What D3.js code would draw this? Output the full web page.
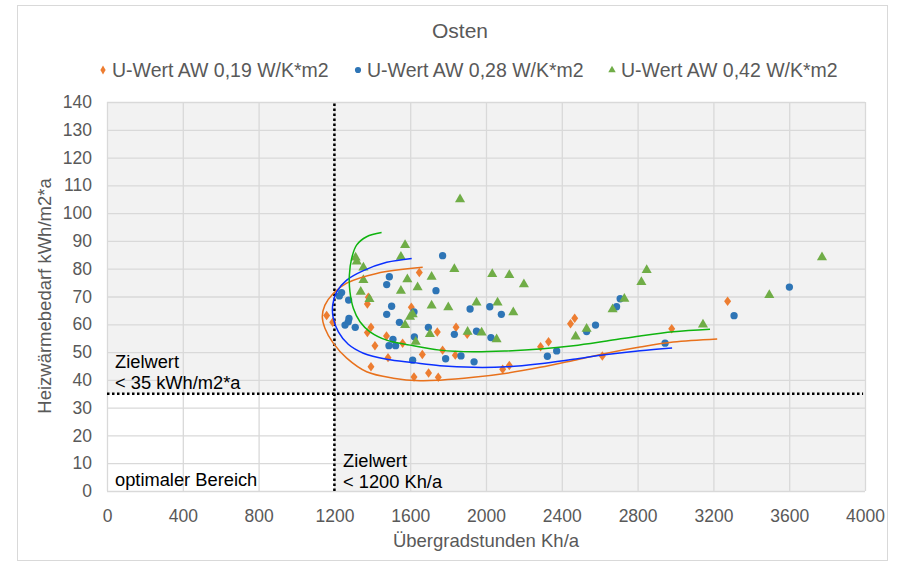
<!DOCTYPE html>
<html>
<head>
<meta charset="utf-8">
<script src="https://cdn.jsdelivr.net/npm/d3@7"></script>
<style>
  body { margin: 0; background: #fff; }
  text { font-family: "Liberation Sans", Arial, sans-serif; }
</style>
</head>
<body>
<div class="chart"></div>
<script>
// Daten: Übergradstunden (Kh/a) / Heizwärmebedarf (kWh/m2*a)
var seriesNames = ["U-Wert AW 0,19 W/K*m2", "U-Wert AW 0,28 W/K*m2", "U-Wert AW 0,42 W/K*m2"];

var punkte019 = [
    [1159, 63.2], [1191, 60.7], [1379, 69.7], [1374, 67.3], [1648, 78.6], [1606, 66.1],
    [1393, 58.9], [1374, 57.0], [1475, 55.8], [1414, 52.3], [1560, 53.2], [1483, 48.0],
    [1393, 44.7], [1664, 49.1], [1620, 41.0], [1697, 42.5], [1743, 57.2], [1748, 40.9],
    [1842, 58.9], [1771, 50.7], [1838, 48.9], [1901, 56.4], [2088, 43.8], [2123, 45.2],
    [2288, 51.9], [2330, 53.7], [2446, 60.2], [2468, 62.2], [2614, 48.6], [2980, 58.4],
    [3275, 68.3]
];
var punkte028 = [
    [1238, 71.4], [1226, 70.2], [1275, 68.7], [1490, 77.1], [1476, 74.3], [1736, 72.1],
    [1771, 84.7], [1502, 66.5], [1476, 63.6], [1620, 64.5], [1277, 62.1], [1273, 60.9],
    [1256, 59.7], [1310, 58.9], [1543, 60.7], [1696, 58.9], [1509, 54.6], [1488, 52.3],
    [1523, 52.3], [1622, 55.5], [1613, 47.1], [1833, 56.4], [1787, 47.6], [1868, 48.6],
    [1937, 46.5], [1916, 65.5], [2020, 66.3], [2081, 63.6], [1950, 57.5], [2026, 55.2],
    [2324, 48.5], [2373, 50.4], [2531, 57.4], [2578, 59.7], [2689, 66.3], [2708, 69.2],
    [2945, 53.2], [3309, 63.1], [3601, 73.4]
];
var punkte042 = [
    [1312, 84.0], [1318, 82.6], [1353, 80.4], [1353, 75.9], [1339, 71.7], [1385, 69.1],
    [1573, 88.5], [1551, 84.3], [1585, 76.2], [1713, 77.1], [1551, 72.0], [1639, 73.3],
    [1613, 63.6], [1599, 62.7], [1573, 59.7], [1629, 53.7], [1704, 56.5], [1713, 66.7],
    [1801, 66.1], [1833, 79.9], [1863, 105.0], [1903, 57.3], [1950, 67.8], [1977, 57.0],
    [2033, 78.1], [2056, 54.6], [2061, 67.8], [2123, 77.7], [2144, 64.3], [2200, 74.4],
    [2473, 55.6], [2531, 58.4], [2668, 65.4], [2730, 69.2], [2820, 75.2], [2848, 79.5],
    [3145, 59.9], [3495, 70.5], [3773, 84.1]
];

// Trendlinien
var trend019 = [
    [1666, 80.5], [1423, 78.3], [1265, 74.8], [1194, 71.1], [1150, 66.9], [1136, 62.7],
    [1150, 58.6], [1194, 53.2], [1265, 47.8], [1370, 42.9], [1511, 40.6], [1652, 39.7],
    [1757, 39.9], [1933, 40.9], [2109, 42.4], [2285, 44.5], [2461, 47.0], [2637, 49.6],
    [2813, 51.8], [2988, 53.6], [3220, 54.7]
];
var trend028 = [
    [1608, 83.7], [1476, 82.3], [1353, 79.3], [1265, 75.9], [1212, 71.7], [1191, 66.9],
    [1194, 62.2], [1221, 57.3], [1273, 52.8], [1353, 49.6], [1476, 47.4], [1616, 46.2],
    [1757, 45.1], [1933, 44.5], [2109, 44.7], [2285, 45.8], [2461, 47.4], [2637, 49.1],
    [2813, 50.5], [2982, 51.5]
];
var trend042 = [
    [1449, 93.0], [1370, 91.5], [1317, 88.5], [1291, 83.7], [1279, 77.7], [1282, 71.7],
    [1300, 65.8], [1335, 60.9], [1388, 57.3], [1476, 54.3], [1599, 52.5], [1757, 50.7],
    [1933, 50.1], [2109, 50.4], [2285, 51.1], [2461, 52.3], [2637, 54.0], [2813, 55.8],
    [2988, 57.3], [3182, 58.2]
];

var xTicks = [0, 400, 800, 1200, 1600, 2000, 2400, 2800, 3200, 3600, 4000];
var yTicks = [0, 10, 20, 30, 40, 50, 60, 70, 80, 90, 100, 110, 120, 130, 140];
var zielX = 1200, zielY = 35;

var width = 903, height = 567;
var svg = d3.select(".chart").append("svg").attr("width", width).attr("height", height);

// Rahmen
svg.append("rect").attr("x", 17.5).attr("y", 5.5).attr("width", 870).attr("height", 555)
    .attr("fill", "#fff").attr("stroke", "#d9d9d9");

var x = d3.scaleLinear().domain([0, 4000]).range([107, 865]);
var y = d3.scaleLinear().domain([0, 140]).range([491, 102]);

// Hintergrund
svg.append("rect").attr("x", x(0)).attr("y", y(140))
    .attr("width", x(4000) - x(0)).attr("height", y(0) - y(140)).attr("fill", "#f2f2f2");
svg.append("rect").attr("x", x(0)).attr("y", y(zielY))
    .attr("width", x(zielX) - x(0)).attr("height", y(0) - y(zielY)).attr("fill", "#fff");

// Gitter
svg.append("g").selectAll("line").data(xTicks).enter().append("line")
    .attr("x1", function (d) { return x(d) + 0.5; }).attr("x2", function (d) { return x(d) + 0.5; })
    .attr("y1", y(0)).attr("y2", y(140)).attr("stroke", "#d9d9d9").attr("stroke-width", 1.3);
svg.append("g").selectAll("line").data(yTicks).enter().append("line")
    .attr("y1", function (d) { return y(d) + 0.5; }).attr("y2", function (d) { return y(d) + 0.5; })
    .attr("x1", x(0)).attr("x2", x(4000)).attr("stroke", "#d9d9d9").attr("stroke-width", 1.3);

// Achsen
var xAxis = svg.append("g").attr("transform", "translate(0," + (y(0) + 5) + ")")
    .call(d3.axisBottom(x).tickValues(xTicks).tickFormat(d3.format("d")).tickSize(0).tickPadding(14));
var yAxis = svg.append("g").attr("transform", "translate(" + (x(0) - 15) + ",0)")
    .call(d3.axisLeft(y).tickValues(yTicks).tickSize(0).tickPadding(0));
[xAxis, yAxis].forEach(function (a) {
    a.select(".domain").remove();
    a.selectAll("text").attr("fill", "#595959").style("font-size", "17.5px")
        .style("font-family", "'Liberation Sans', Arial, sans-serif");
});

// Zielwert-Linien
svg.append("line").attr("x1", x(zielX)).attr("x2", x(zielX)).attr("y1", y(0)).attr("y2", y(140))
    .attr("stroke", "#000").attr("stroke-width", 2.5).attr("stroke-dasharray", "2.5,2.5");
svg.append("line").attr("x1", x(0)).attr("x2", x(3990)).attr("y1", y(zielY)).attr("y2", y(zielY))
    .attr("stroke", "#000").attr("stroke-width", 2.5).attr("stroke-dasharray", "2.5,2.5");

var colors = ["#ed7d31", "#2e75b6", "#70ad47"];
var lineColors = ["#e8711c", "#0a2fff", "#0fb40f"];
var symbols = [d3.symbolDiamond, d3.symbolCircle, d3.symbolTriangle];
var sizes = [32, 42, 44];
var allPoints = [punkte019, punkte028, punkte042];
var allTrends = [trend019, trend028, trend042];

allPoints.forEach(function (pts, i) {
    svg.append("g").selectAll("path").data(pts).enter().append("path")
        .attr("d", d3.symbol().type(symbols[i]).size(sizes[i]))
        .attr("transform", function (d) {
            return "translate(" + x(d[0]) + "," + y(d[1]) + ")" + (i == 0 ? " scale(1.15,0.9)" : "");
        })
        .attr("fill", colors[i]);
});

var line = d3.line().x(function (d) { return x(d[0]); }).y(function (d) { return y(d[1]); })
    .curve(d3.curveCatmullRom);
allTrends.forEach(function (t, i) {
    svg.append("path").attr("d", line(t)).attr("fill", "none")
        .attr("stroke", lineColors[i]).attr("stroke-width", 1.5);
});

// Titel
svg.append("text").attr("x", 460).attr("y", 38).attr("text-anchor", "middle")
    .attr("fill", "#595959").style("font-size", "21px").text("Osten");

// Legende
var legendX = [103, 358, 612];
seriesNames.forEach(function (n, i) {
    svg.append("path").attr("d", d3.symbol().type(symbols[i]).size(i == 1 ? 30 : 24))
        .attr("transform", "translate(" + legendX[i] + ",70)").attr("fill", colors[i]);
    svg.append("text").attr("x", legendX[i] + 9).attr("y", 77).attr("fill", "#595959")
        .style("font-size", "19.5px").text(n);
});

// Achsentitel
svg.append("text").attr("x", 486).attr("y", 547).attr("text-anchor", "middle")
    .attr("fill", "#595959").style("font-size", "18.5px").text("Übergradstunden Kh/a");
svg.append("text").attr("transform", "translate(51,296) rotate(-90)").attr("text-anchor", "middle")
    .attr("fill", "#595959").style("font-size", "18.5px").text("Heizwärmebedarf kWh/m2*a");

// Beschriftungen
function label(tx, ty, lines) {
    lines.forEach(function (l, k) {
        svg.append("text").attr("x", tx).attr("y", ty + k * 21).attr("fill", "#000")
            .style("font-size", "18.3px").text(l);
    });
}
label(115, 368, ["Zielwert", "< 35 kWh/m2*a"]);
label(343, 467, ["Zielwert", "< 1200 Kh/a"]);
label(115, 486, ["optimaler Bereich"]);
</script>
</body>
</html>
